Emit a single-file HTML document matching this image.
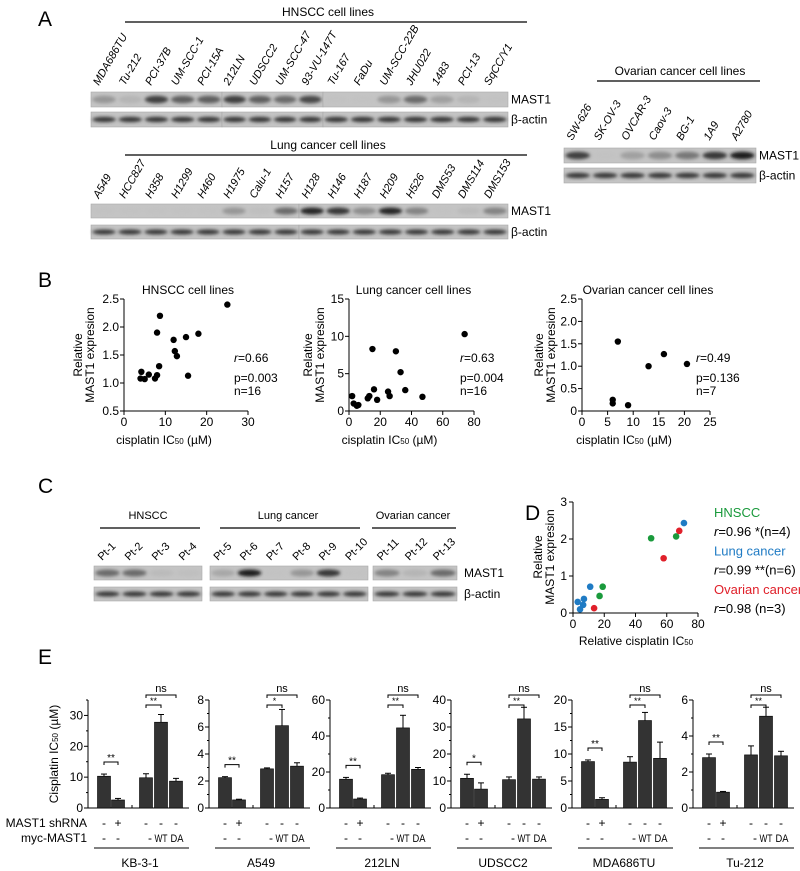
<!DOCTYPE html>
<html><head><meta charset="utf-8"><style>
html,body{margin:0;padding:0;background:#fff}
svg{display:block;font-family:"Liberation Sans",Arial,sans-serif}
</style></head><body>
<svg id="fig" xmlns="http://www.w3.org/2000/svg" width="800" height="871" viewBox="0 0 800 871">
<defs><filter id="blur" x="-20%" y="-50%" width="140%" height="200%"><feGaussianBlur stdDeviation="1.6"/></filter></defs>
<g id="root"></g>
</svg>
<script>
// ---------- data ----------
const hnsccLines=["MDA686TU","Tu-212","PCI-37B","UM-SCC-1","PCI-15A","212LN","UDSCC2","UM-SCC-47","93-VU-147T","Tu-167","FaDu","UM-SCC-22B","JHU022","1483","PCI-13","SqCC/Y1"];
const hnsccBand=[0.4,0.2,0.8,0.65,0.65,0.8,0.65,0.6,0.75,0.05,0.05,0.4,0.6,0.35,0.2,0.05];
const lungLines=["A549","HCC827","H358","H1299","H460","H1975","Calu-1","H157","H128","H146","H187","H209","H526","DMS53","DMS114","DMS153"];
const lungBand=[0.05,0.05,0.05,0.05,0.05,0.4,0.1,0.6,0.95,0.85,0.45,0.95,0.5,0.05,0.15,0.5];
const ovLines=["SW-626","SK-OV-3","OVCAR-3","Caov-3","BG-1","1A9","A2780"];
const ovBand=[0.8,0.05,0.35,0.45,0.55,0.85,1];
const ptLabels=["Pt-1","Pt-2","Pt-3","Pt-4","Pt-5","Pt-6","Pt-7","Pt-8","Pt-9","Pt-10","Pt-11","Pt-12","Pt-13"];
const ptBand=[0.6,0.6,0.15,0.1,0.3,1,0.05,0.4,0.85,0.05,0.5,0.2,0.6];

const hnX=[4,4.2,5,6,7.5,8,8.5,8,8.7,12,12.3,12.8,15,15.5,18,25];
const hnY=[1.08,1.2,1.07,1.15,1.08,1.14,1.3,1.9,2.2,1.77,1.57,1.48,1.82,1.13,1.88,2.4];
const luX=[2,3,5,6,12,13,15,16,18,25,26,30,33,36,47,74];
const luY=[2,1,0.7,0.8,1.7,2,8.3,2.9,1.5,2.6,2,8,5.2,2.8,1.9,10.3];
const ovX=[6,6,7,9,13,16,20.5];
const ovY=[0.25,0.17,1.55,0.13,1,1.27,1.05];

const dGreenX=[50,66,17,19], dGreenY=[2.02,2.07,0.46,0.71];
const dBlueX=[71,11,3,7,6.5,4.5], dBlueY=[2.43,0.71,0.3,0.38,0.22,0.1];
const dRedX=[68,58,13.5], dRedY=[2.22,1.48,0.13];

const eNames=["KB-3-1","A549","212LN","UDSCC2","MDA686TU","Tu-212"];
const eMax=[35,8,60,40,20,6];
const eStep=[10,2,20,10,5,2];
const eVals=[[10.3,2.6,9.8,27.8,8.7],[2.25,0.6,2.9,6.1,3.1],[16,5,18.5,44.5,21.5],[11,7,10.5,33,10.7],[8.6,1.6,8.5,16.2,9.2],[2.8,0.88,2.95,5.1,2.9]];
const eErr=[[0.7,0.5,1.3,2.5,0.9],[0.07,0.05,0.07,1.2,0.25],[1,0.5,0.8,7,1],[1.5,2.3,1,4.3,0.8],[0.3,0.3,1,1.5,3],[0.2,0.04,0.5,0.5,0.25]];
const eSig12=["**","**","**","*","**","**"];
const eSig34=["**","*","**","**","**","**"];
const shRNA=["-","+","-","-","-"];
const myc=["-","-","-","WT","DA"];

// ---------- helpers ----------
const NS="http://www.w3.org/2000/svg";
const root=document.getElementById('root');
function mk(tag,attrs,parent){const e=document.createElementNS(NS,tag);for(const k in attrs)e.setAttribute(k,attrs[k]);(parent||root).appendChild(e);return e;}
function txt(s,x,y,size,anchor,parent,extra){const t=mk('text',Object.assign({x:x,y:y,'font-size':size,'text-anchor':anchor||'start',fill:'#000'},extra||{}),parent);t.textContent=s;return t;}
function line(x1,y1,x2,y2,parent,w){return mk('line',{x1,y1,x2,y2,stroke:'#000','stroke-width':w||1},parent);}

[["A",38,26],["B",38,287],["C",38,493],["D",525,520],["E",38,664]].forEach(p=>{
  const t=txt(p[0],p[1],p[2],21,'start');
  
  
});

function blot(name,segs,bands,y0,h,labelX,labelText){
  const g=mk('g',{});
  
  
  let i=0;
  segs.forEach(s=>{
    mk('rect',{x:s[0],y:y0,width:s[1]-s[0],height:h,fill:'#c4c4c4',stroke:'#aaa','stroke-width':0.6},g);
    const w=(s[1]-s[0])/s[2];
    for(let k=0;k<s[2];k++,i++){
      const v=bands?bands[i]:0.85;
      const c=Math.round(200-170*v);
      mk('ellipse',{cx:s[0]+w*(k+0.5),cy:y0+h/2,rx:w*0.45,ry:bands?h*0.25:h*0.18,fill:`rgb(${c},${c},${c})`,filter:'url(#blur)',opacity:bands?Math.min(1,0.3+v):1},g);
    }
  });
  txt(labelText,labelX,y0+h/2+4,12,'start',g);
  return g;
}
function rotLabels(name,names,x0,x1,yb,ang,size,italic){
  const g=mk('g',{});
  
  
  const w=(x1-x0)/names.length;
  names.forEach((n,i)=>{
    const x=x0+w*(i+0.3);
    txt(n,x,yb,size,'start',g,{transform:`rotate(${ang} ${x} ${yb})`,'font-style':italic?'italic':'normal'});
  });
}
function groupTitle(name,s,cx,y,x1,x2,ly,size){
  const g=mk('g',{});
  
  
  txt(s,cx,y,size||12,'middle',g);
  line(x1,ly,x2,ly,g,1.2);
}

// ---------- Panel A ----------
groupTitle('hnscc-title',"HNSCC cell lines",328,16,125,527,22);
rotLabels('hnscc-lane-labels',hnsccLines,91,508,86,-60,11,true);
blot('hnscc-mast1-blot',[[91,222,5],[222,323,4],[323,508,7]],hnsccBand,92,15,511,"MAST1");
blot('hnscc-actin-blot',[[91,222,5],[222,323,4],[323,508,7]],null,112,15,511,"β-actin");
groupTitle('lung-title',"Lung cancer cell lines",328,149,125,527,155);
rotLabels('lung-lane-labels',lungLines,91,508,199,-60,11,true);
blot('lung-mast1-blot',[[91,299,8],[299,508,8]],lungBand,204,14,511,"MAST1");
blot('lung-actin-blot',[[91,299,8],[299,508,8]],null,225,14,511,"β-actin");
groupTitle('ovarian-title',"Ovarian cancer cell lines",680,75,597,760,81);
rotLabels('ovarian-lane-labels',ovLines,564,756,141,-60,11,true);
blot('ovarian-mast1-blot',[[564,756,7]],ovBand,148,15,759,"MAST1");
blot('ovarian-actin-blot',[[564,756,7]],null,168,15,759,"β-actin");

// ---------- Panel B scatter ----------
function scatter(name,title,xs,ys,ax,xw,ymax,ymin,xmax,xticks,yticks,yfmt,stats,ylabX){
  const g=mk('g',{});
  
  
  const sx=v=>ax+v/xmax*xw;
  const sy=v=>411-(v-ymin)/(ymax-ymin)*112;
  txt(title,ax+xw/2+2,294,12,'middle',g);
  line(ax,299,ax,411,g);line(ax,411,ax+xw,411,g);
  xticks.forEach(v=>{line(sx(v),411,sx(v),415,g);txt(String(v),sx(v),426,12,'middle',g);});
  yticks.forEach(v=>{line(ax-4,sy(v),ax,sy(v),g);txt(yfmt(v),ax-5,sy(v)+4,12,'end',g);});
  const xl=txt("cisplatin IC",ax+xw/2-22,444,12,'middle',g);
  const ts=mk('tspan',{'font-size':8},xl);ts.textContent="50";
  const ts2=mk('tspan',{},xl);ts2.textContent=" (µM)";
  const yl=mk('text',{transform:`translate(${ylabX},355) rotate(-90)`,'font-size':12,'text-anchor':'middle'},g);
  const a=mk('tspan',{x:0,dy:0},yl);a.textContent="Relative";
  const b=mk('tspan',{x:0,dy:12},yl);b.textContent="MAST1 expresion";
  xs.forEach((v,i)=>{
    const c=mk('circle',{cx:sx(v),cy:sy(ys[i]),r:3.2,fill:'#000'},g);
    
    
  });
  const sxp=ax+xw-14;
  const r=txt("",sxp,362,12,'start',g);const ri=mk('tspan',{'font-style':'italic'},r);ri.textContent="r";const rr=mk('tspan',{},r);rr.textContent="="+stats[0];
  txt("p="+stats[1],sxp,382,12,'start',g);
  txt("n="+stats[2],sxp,395,12,'start',g);
}
scatter('hnscc-scatter',"HNSCC cell lines",hnX,hnY,124,124,2.5,0.5,30,[0,10,20,30],[0.5,1,1.5,2,2.5],v=>v.toFixed(1),["0.66","0.003","16"],82);
scatter('lung-scatter',"Lung cancer cell lines",luX,luY,349,125,15,0,80,[0,20,40,60,80],[0,5,10,15],v=>String(v),["0.63","0.004","16"],312);
scatter('ovarian-scatter',"Ovarian cancer cell lines",ovX,ovY,582,128,2.5,0,25,[0,5,10,15,20,25],[0,0.5,1,1.5,2,2.5],v=>v===0?"0":v.toFixed(1),["0.49","0.136","7"],543);

// ---------- Panel C ----------
groupTitle('c-hnscc-title',"HNSCC",148,519,100,200,528,11);
groupTitle('c-lung-title',"Lung cancer",288,519,220,360,528,11);
groupTitle('c-ovarian-title',"Ovarian cancer",413,519,372,456,528,11);
rotLabels('c-patient-labels',ptLabels.slice(0,4),94,202,561,-45,11,false);
rotLabels('c-patient-labels-lung',ptLabels.slice(4,10),210,368,561,-45,11,false);
rotLabels('c-patient-labels-ovarian',ptLabels.slice(10),373,457,561,-45,11,false);
blot('c-mast1-blot',[[94,202,4],[210,368,6],[373,457,3]],ptBand,566,14,464,"MAST1");
blot('c-actin-blot',[[94,202,4],[210,368,6],[373,457,3]],null,587,14,464,"β-actin");

// ---------- Panel D ----------
(function(){
  const g=mk('g',{});
  
  
  const sx=v=>573+v/80*125, sy=v=>613-v/3*111;
  line(573,502,573,613,g);line(573,613,698,613,g);
  [0,20,40,60,80].forEach(v=>{line(sx(v),613,sx(v),617,g);txt(String(v),sx(v),628,12,'middle',g);});
  [0,1,2,3].forEach(v=>{line(569,sy(v),573,sy(v),g);txt(String(v),567,sy(v)+4,12,'end',g);});
  const xl=txt("Relative cisplatin IC",636,645,12,'middle',g);
  const t=mk('tspan',{'font-size':8},xl);t.textContent="50";
  const yl=mk('text',{transform:`translate(542,557) rotate(-90)`,'font-size':12,'text-anchor':'middle'},g);
  const a=mk('tspan',{x:0,dy:0},yl);a.textContent="Relative";
  const b=mk('tspan',{x:0,dy:12},yl);b.textContent="MAST1 expresion";
  [[dGreenX,dGreenY,'#1a9a3c'],[dBlueX,dBlueY,'#1f7bc4'],[dRedX,dRedY,'#e0202a']].forEach(s=>{
    s[0].forEach((v,i)=>{const c=mk('circle',{cx:sx(v),cy:sy(s[1][i]),r:3.3,fill:s[2]},g);
      
      });
  });
  const lg=mk('g',{},g);
  
  
  const items=[["HNSCC","#1a9a3c","0.96 *(n=4)"],["Lung cancer","#1f7bc4","0.99 **(n=6)"],["Ovarian cancer","#e0202a","0.98 (n=3)"]];
  items.forEach((it,i)=>{
    const y=517+i*38.5;
    txt(it[0],714,y,13,'start',lg,{fill:it[1]});
    const r=txt("",714,y+19,13,'start',lg);const ri=mk('tspan',{'font-style':'italic'},r);ri.textContent="r";const rr=mk('tspan',{},r);rr.textContent="="+it[2];
  });
})();

// ---------- Panel E ----------
const yT=mk('text',{transform:'translate(58,754) rotate(-90)','font-size':12,'text-anchor':'middle'});


yT.appendChild(document.createTextNode("Cisplatin IC"));
(function(){const t=mk('tspan',{'font-size':8},yT);t.textContent="50";const t2=mk('tspan',{},yT);t2.textContent=" (µM)";})();
const rl=txt("MAST1 shRNA",87,827,12,'end');

const ml=txt("myc-MAST1",87,842,12,'end');

const barOff=[16,30,58,73,88];
eNames.forEach((nm,p)=>{
  const g=mk('g',{});
  
  
  const ax=88+121*p, base=808, H=108;
  const sy=v=>base-v/eMax[p]*H;
  line(ax,base-H,ax,base,g);line(ax,base,ax+101,base,g);
  line(ax+44,base,ax+44,base-3,g);
  for(let v=0;v<=eMax[p]+1e-9;v+=eStep[p]/2){
    const major=Math.abs(v/eStep[p]-Math.round(v/eStep[p]))<1e-6;
    line(ax-(major?4:2),sy(v),ax,sy(v),g);
    if(major) txt(String(Math.round(v*10)/10),ax-5,sy(v)+4,12,'end',g);
  }
  eVals[p].forEach((v,i)=>{
    const cx=ax+barOff[i];
    const r=mk('rect',{x:cx-6.5,y:sy(v),width:13,height:base-sy(v),fill:'#333',stroke:'#000','stroke-width':0.6},g);
    
    
    const e=eErr[p][i];
    line(cx,sy(v),cx,sy(v+e),g);line(cx-3,sy(v+e),cx+3,sy(v+e),g);
    txt(shRNA[i],cx,827,12,'middle',g);
    if(myc[i].length>1) txt(myc[i],cx+(i===4?1:0),842,11,'middle',g,{textLength:13,lengthAdjust:'spacingAndGlyphs'});
    else txt(myc[i],cx+(i===2?4:0),842,12,'middle',g);
  });
  const top12=Math.min(sy(eVals[p][0]+eErr[p][0]),sy(eVals[p][1]+eErr[p][1]))-12;
  function br(x1,x2,y,lab,fs){
    mk('path',{d:`M${x1},${y+3}V${y}H${x2}V${y+3}`,fill:'none',stroke:'#000','stroke-width':1},g);
    txt(lab,(x1+x2)/2,y-(lab==='ns'?3:1),fs,'middle',g);
  }
  br(ax+barOff[0],ax+barOff[1],top12,eSig12[p],10);
  br(ax+barOff[2],ax+barOff[3],705,eSig34[p],9);
  br(ax+barOff[2],ax+barOff[4],695,"ns",11);
  line(ax+6,848,ax+101,848,g);
  txt(nm,ax+52,867,12,'middle',g);
});
</script>
</body></html>
